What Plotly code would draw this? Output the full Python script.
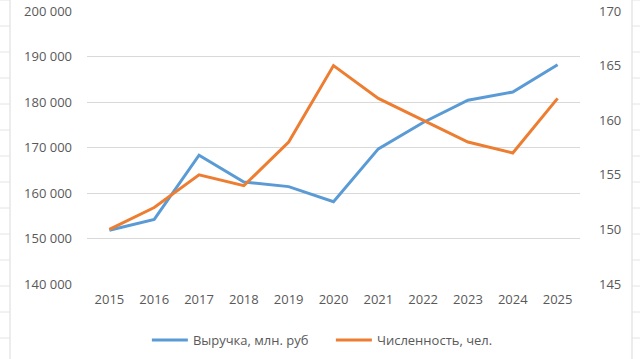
import plotly.graph_objects as go

years = ["2015", "2016", "2017", "2018", "2019", "2020", "2021", "2022", "2023", "2024", "2025"]
revenue = [151800, 154200, 168300, 162400, 161400, 158100, 169700, 175500, 180400, 182200, 188200]
staff = [150, 152, 155, 154, 158, 165, 162, 160, 158, 157, 162]
revenue_name = "Выручка, млн. руб"
staff_name = "Численность, чел."

W, H = 640, 359
L, R, T, B = 87, 60, 11, 75
pw = W - L - R
ph = H - T - B

TXT = "#595959"
FONT = "Open Sans"

fig = go.Figure()
fig.add_trace(go.Scatter(x=years, y=revenue, name=revenue_name, mode="lines",
                         line=dict(color="#5B9BD5", width=3), yaxis="y"))
fig.add_trace(go.Scatter(x=years, y=staff, name=staff_name, mode="lines",
                         line=dict(color="#ED7D31", width=3), yaxis="y2"))

def px_x(p):
    return (p - L) / pw

def px_y(p):
    return 1 - (p - T) / ph

shapes = []
for xv in (10, 632):
    shapes.append(dict(type="line", xref="paper", yref="paper",
                       x0=px_x(xv), x1=px_x(xv), y0=px_y(0), y1=px_y(H),
                       line=dict(color="#DADADA", width=1), layer="below"))
for k in range(14):
    yy = 26 * k
    shapes.append(dict(type="line", xref="paper", yref="paper",
                       x0=px_x(0), x1=px_x(10), y0=px_y(yy), y1=px_y(yy),
                       line=dict(color="#E4E4E4", width=1), layer="below"))
    shapes.append(dict(type="line", xref="paper", yref="paper",
                       x0=px_x(632), x1=px_x(640), y0=px_y(yy), y1=px_y(yy),
                       line=dict(color="#E4E4E4", width=1), layer="below"))

fig.update_layout(
    width=W, height=H,
    margin=dict(l=L, r=R, t=T, b=B, autoexpand=False),
    paper_bgcolor="white", plot_bgcolor="white",
    separators=", ",
    font=dict(family=FONT, size=13, color=TXT),
    showlegend=True,
    legend=dict(orientation="h", xref="container", yref="container",
                x=0.517, xanchor="center", y=0.053, yanchor="middle",
                font=dict(size=13, color=TXT),
                entrywidth=133, itemwidth=36,
                traceorder="normal"),
    xaxis=dict(type="category", range=[-0.5, len(years) - 0.5],
               showgrid=False, zeroline=False, showline=False,
               ticks="", automargin=False, ticklabelstandoff=6,
               tickfont=dict(size=13, color=TXT)),
    yaxis=dict(range=[140000, 200000], dtick=10000, tickformat=",d",
               showgrid=True, gridcolor="#D9D9D9", gridwidth=1,
               zeroline=False, showline=False, ticks="", automargin=False,
               ticklabelstandoff=14,
               tickfont=dict(size=13, color=TXT)),
    yaxis2=dict(range=[145, 170], dtick=5, overlaying="y", side="right",
                showgrid=False, zeroline=False, showline=False, ticks="",
                automargin=False, ticklabelstandoff=18,
                tickfont=dict(size=13, color=TXT)),
    shapes=shapes,
)

fig.write_html("out.html", config={"displayModeBar": False},
               post_script="document.body.style.margin='0';document.body.style.overflow='hidden';")
